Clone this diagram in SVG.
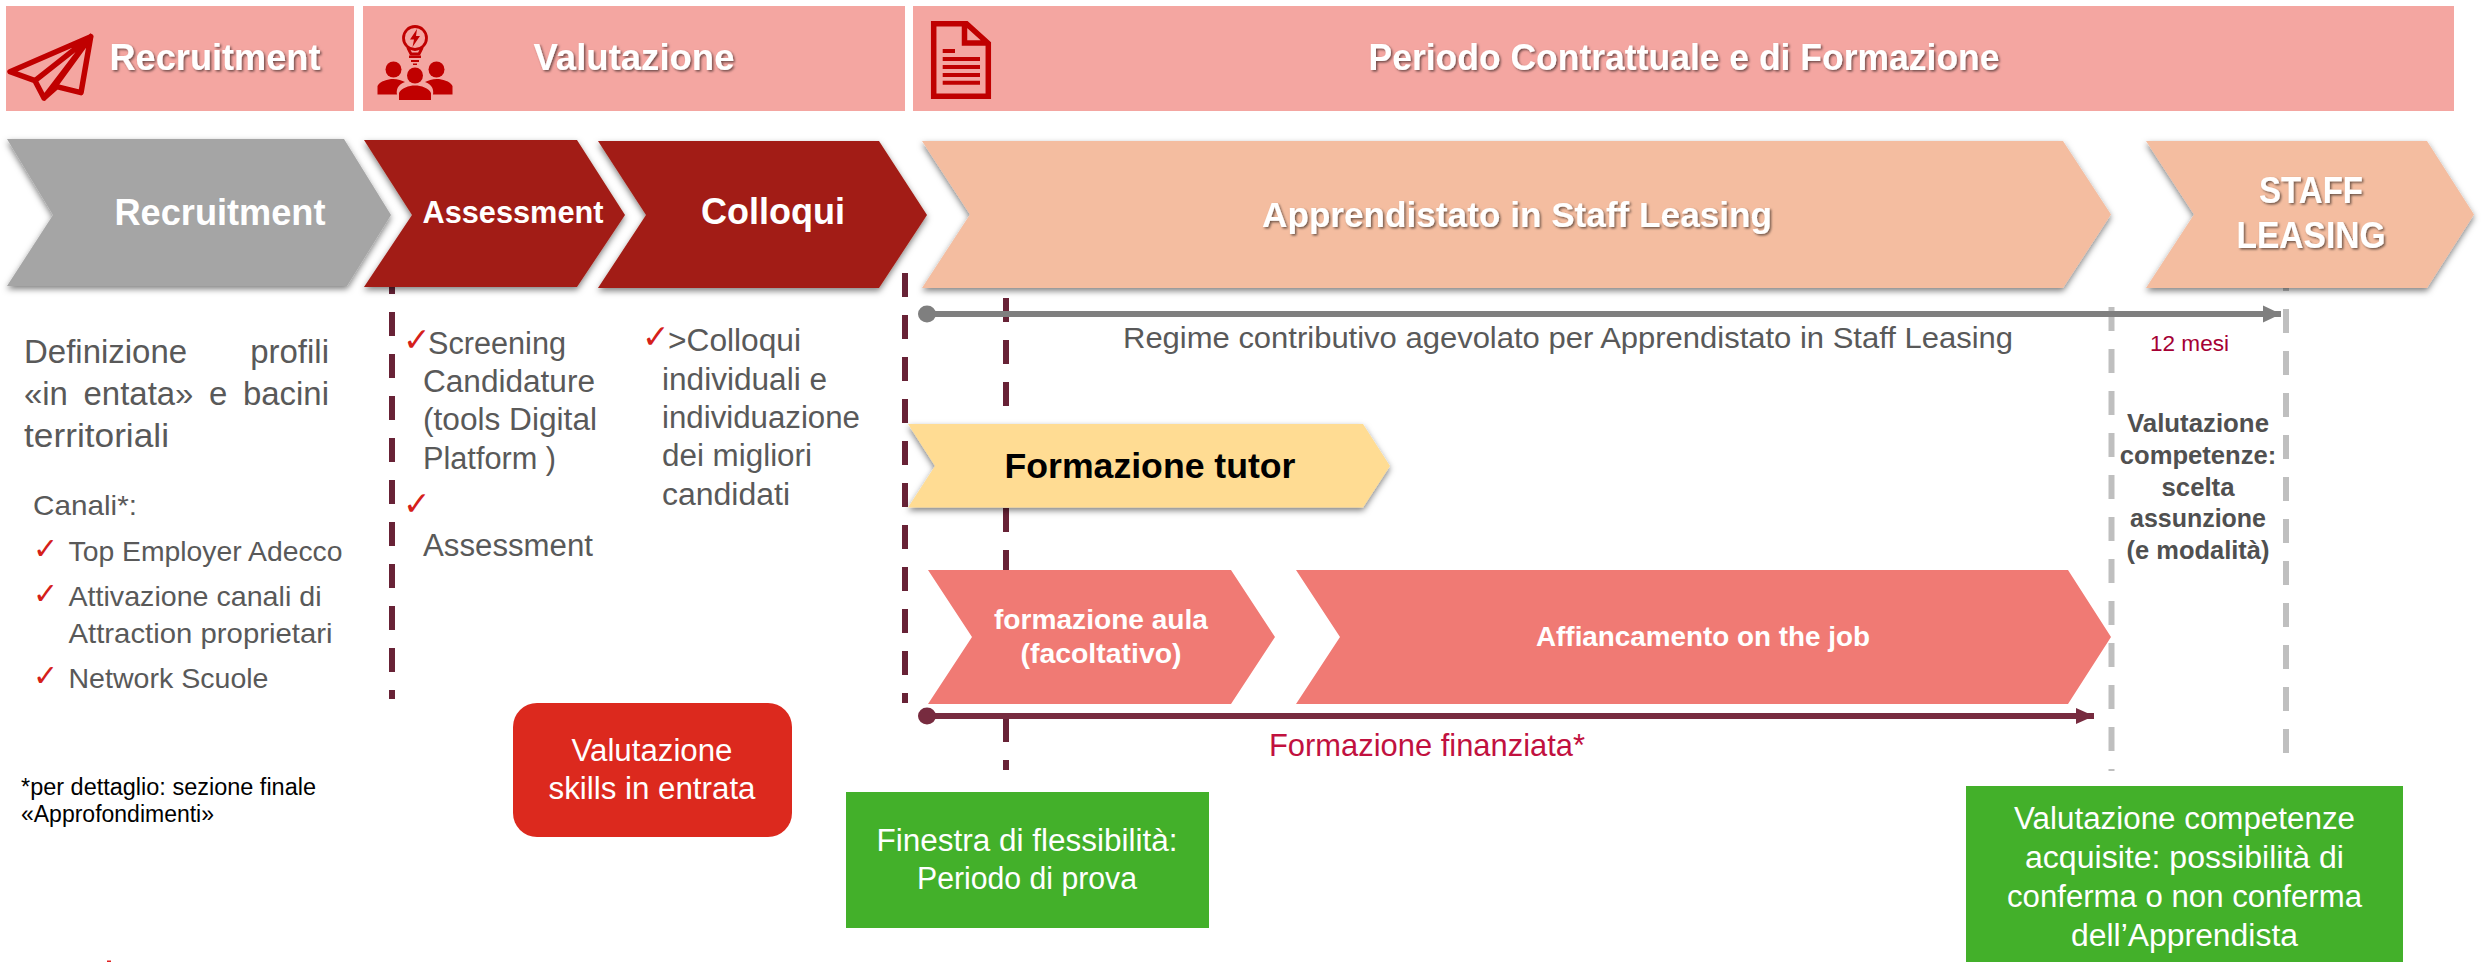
<svg xmlns="http://www.w3.org/2000/svg" width="2483" height="962" viewBox="0 0 2483 962">
<style>
text{font-family:"Liberation Sans",Arial,sans-serif}
.m{text-anchor:middle}
.hd{fill:#fff;font-weight:700;font-size:36px;filter:url(#ts)}
.wb{fill:#fff;font-weight:700}
.body{fill:#595959;font-size:31px}
.list{fill:#595959;font-size:28px}
.ck{fill:#d5201a;font-family:"DejaVu Sans",sans-serif;font-size:30px}
.ck2{fill:#d5201a;font-family:"DejaVu Sans",sans-serif;font-size:33px}
.box{fill:#fff;font-size:31px}
.vs{font-size:25.500px;font-weight:700;fill:#505050;text-anchor:middle}
.hbar{fill:#f4a6a1}
.ic{fill:#c00000}
.ics{fill:none;stroke:#c00000;stroke-linejoin:round;stroke-linecap:round}
.dm{stroke:#682236;stroke-width:6;stroke-dasharray:24 18;fill:none}
.dg{stroke:#bfbfbf;stroke-width:6;stroke-dasharray:24 18;fill:none}
.sh{filter:url(#ds)}
</style>
<defs>
<filter id="ds" x="-5%" y="-10%" width="110%" height="125%"><feDropShadow dx="0" dy="3" stdDeviation="3" flood-color="#000" flood-opacity=".5"/></filter>
<filter id="ts" x="-5%" y="-20%" width="110%" height="140%"><feDropShadow dx="1.500" dy="1.500" stdDeviation="1" flood-color="#000" flood-opacity=".55"/></filter>
<marker id="ag" markerUnits="userSpaceOnUse" markerWidth="18" markerHeight="18" refX="18" refY="9" orient="auto"><path d="M0 0.500L18 9L0 17.500Z" fill="#7f7f7f"/></marker>
<marker id="am" markerUnits="userSpaceOnUse" markerWidth="18" markerHeight="16" refX="18" refY="8" orient="auto"><path d="M0 0L18 8L0 16Z" fill="#772b3f"/></marker>
</defs>
<g id="connectors">
<path class="dm" d="M392 270V699"/>
<path class="dm" d="M905 273V703"/>
<path class="dm" d="M1006 298V770"/>
<path class="dg" d="M2111.500 307V771"/>
<path class="dg" d="M2286 141V753"/>
<ellipse cx="927" cy="314" rx="9" ry="8.500" fill="#7f7f7f"/>
<path d="M927 314H2281" stroke="#7f7f7f" stroke-width="6" fill="none" marker-end="url(#ag)"/>
<ellipse cx="927" cy="716" rx="9" ry="8.500" fill="#772b3f"/>
<path d="M927 716H2094" stroke="#772b3f" stroke-width="6" fill="none" marker-end="url(#am)"/>
</g>
<g id="header-recruitment">
<rect class="hbar" x="6" y="6" width="348" height="105"/>
<path class="ics" stroke-width="5.500" d="M90.700 36.700L10 71.700L35 80.700L44 98L56.700 86.700L81 92.700ZM90.700 36.700L35 80.700M90.700 36.700L44 98M90.700 36.700L52 90"/>
<text class="hd m" x="215" y="70" textLength="211" lengthAdjust="spacingAndGlyphs">Recruitment</text>
</g>
<g id="header-valutazione">
<rect class="hbar" x="363" y="6" width="542" height="105"/>
<circle class="ics" cx="415" cy="38" r="11.500" stroke-width="2.800"/>
<path class="ics" stroke-width="2.800" d="M408 48L411 54H419L422 48"/>
<path class="ic" d="M417 29L410 39.500H414L412.500 47L420 36H416ZM409 55.500H421V58H409ZM411 60H419V62H411ZM413 63.500H417V65H413Z"/>
<circle class="ic" cx="393.500" cy="69.500" r="8"/>
<circle class="ic" cx="436.500" cy="69.500" r="8"/>
<circle class="ic" cx="415" cy="75.500" r="8"/>
<path class="ic" d="M377.500 94.500V86C380 81 388 79 393 79C398 79 402 80.500 405 82C398 84 396 90 397 94.500ZM452.500 94.500V86C450 81 442 79 437 79C432 79 428 80.500 425 82C432 84 434 90 433 94.500ZM399 100V93C401 88 409 85.500 415 85.500C421 85.500 429 88 431 93V100Z"/>
<text class="hd m" x="634" y="70" textLength="201" lengthAdjust="spacingAndGlyphs">Valutazione</text>
</g>
<g id="header-periodo">
<rect class="hbar" x="913" y="6" width="1541" height="105"/>
<path class="ics" stroke-width="5.500" style="stroke-linecap:butt;stroke-linejoin:miter" d="M933.700 23.700H966.500L988.300 43.500V96.300H933.700ZM964.500 23.700V43H988"/>
<path class="ic" d="M942.700 49H955V53H942.700ZM942.700 57H980V61H942.700ZM942.700 65H980V69H942.700ZM942.700 73H980V77H942.700ZM942.700 80.700H980V84.700H942.700Z"/>
<text class="hd m" x="1684" y="70" textLength="631" lengthAdjust="spacingAndGlyphs">Periodo Contrattuale e di Formazione</text>
</g>
<g id="step-recruitment">
<path class="sh" fill="#a5a5a5" d="M7 139H344L391 215L347 286H7L53 215Z"/>
<text class="wb m" x="220" y="225" font-size="36" textLength="211" lengthAdjust="spacingAndGlyphs">Recruitment</text>
</g>
<g id="step-assessment">
<path class="sh" fill="#a21e14" d="M364 140H577L625 215L577 287H364L412 215Z"/>
<text class="wb m" x="513" y="223" font-size="30.500" textLength="181" lengthAdjust="spacingAndGlyphs">Assessment</text>
</g>
<g id="step-colloqui">
<path class="sh" fill="#a21e14" d="M598 141H879L927 215L879 288H598L646 215Z"/>
<text class="wb m" x="773" y="224" font-size="36" textLength="144" lengthAdjust="spacingAndGlyphs">Colloqui</text>
</g>
<g id="step-apprendistato">
<path class="sh" fill="#f4bda0" d="M922 141H2063L2111 214.500L2063 288H922L970 214.500Z"/>
<text class="wb m" x="1517" y="227" font-size="35" style="filter:url(#ts)" textLength="510" lengthAdjust="spacingAndGlyphs">Apprendistato in Staff Leasing</text>
</g>
<g id="step-staff-leasing">
<path class="sh" fill="#f4bda0" d="M2146 141H2427L2474 214.500L2427 288H2146L2194 214.500Z"/>
<text class="wb m" x="2311" y="203" font-size="36" style="filter:url(#ts)" textLength="104" lengthAdjust="spacingAndGlyphs">STAFF</text>
<text class="wb m" x="2311" y="248" font-size="36" style="filter:url(#ts)" textLength="149" lengthAdjust="spacingAndGlyphs">LEASING</text>
</g>
<g id="recruitment-text">
<text class="body" x="24" y="363" font-size="33" style="font-size:33px;word-spacing:54px" textLength="305" lengthAdjust="spacingAndGlyphs">Definizione profili</text>
<text class="body" x="24" y="405" style="font-size:33px;word-spacing:6.500px" textLength="305" lengthAdjust="spacingAndGlyphs">«in entata» e bacini</text>
<text class="body" x="24" y="447" style="font-size:33px" textLength="145" lengthAdjust="spacingAndGlyphs">territoriali</text>
<text class="list" x="33" y="515" textLength="104" lengthAdjust="spacingAndGlyphs">Canali*:</text>
<text class="ck" x="33" y="559">✓</text>
<text class="list" x="68.500" y="561" textLength="274" lengthAdjust="spacingAndGlyphs">Top Employer Adecco</text>
<text class="ck" x="33" y="604">✓</text>
<text class="list" x="68.500" y="606" textLength="253" lengthAdjust="spacingAndGlyphs">Attivazione canali di</text>
<text class="list" x="68.500" y="643" textLength="264" lengthAdjust="spacingAndGlyphs">Attraction proprietari</text>
<text class="ck" x="33" y="686">✓</text>
<text class="list" x="68.500" y="688" textLength="200" lengthAdjust="spacingAndGlyphs">Network Scuole</text>
<text x="21" y="795" font-size="23.500" fill="#000" textLength="295" lengthAdjust="spacingAndGlyphs">*per dettaglio: sezione finale</text>
<text x="21" y="822" font-size="23.500" fill="#000" textLength="193" lengthAdjust="spacingAndGlyphs">«Approfondimenti»</text>
<rect x="107" y="960.500" width="4" height="1.500" fill="#e02020"/>
</g>
<g id="assessment-text">
<text class="ck2" x="403" y="351">✓</text>
<text class="body" x="428" y="354" textLength="138" lengthAdjust="spacingAndGlyphs">Screening</text>
<text class="body" x="423" y="392" textLength="172" lengthAdjust="spacingAndGlyphs">Candidature</text>
<text class="body" x="423" y="430" textLength="174" lengthAdjust="spacingAndGlyphs">(tools Digital</text>
<text class="body" x="423" y="469" textLength="133" lengthAdjust="spacingAndGlyphs">Platform )</text>
<text class="ck2" x="403" y="515">✓</text>
<text class="body" x="423" y="556" textLength="170" lengthAdjust="spacingAndGlyphs">Assessment</text>
</g>
<g id="colloqui-text">
<text class="ck2" x="642" y="348">✓</text>
<text class="body" x="668" y="351" textLength="133" lengthAdjust="spacingAndGlyphs">&gt;Colloqui</text>
<text class="body" x="662" y="390" textLength="165" lengthAdjust="spacingAndGlyphs">individuali e</text>
<text class="body" x="662" y="428" textLength="198" lengthAdjust="spacingAndGlyphs">individuazione</text>
<text class="body" x="662" y="466" textLength="150" lengthAdjust="spacingAndGlyphs">dei migliori</text>
<text class="body" x="662" y="505" textLength="128" lengthAdjust="spacingAndGlyphs">candidati</text>
</g>
<g id="regime-label">
<text x="1123" y="348" font-size="30" fill="#595959" textLength="890" lengthAdjust="spacingAndGlyphs">Regime contributivo agevolato per Apprendistato in Staff Leasing</text>
</g>
<g id="mesi-label">
<text x="2150" y="351" font-size="22.500" fill="#a50034" textLength="79" lengthAdjust="spacingAndGlyphs">12 mesi</text>
</g>
<g id="valutazione-scelta">
<text class="vs" x="2198" y="432" textLength="142" lengthAdjust="spacingAndGlyphs">Valutazione</text>
<text class="vs" x="2198" y="464" textLength="156.500" lengthAdjust="spacingAndGlyphs">competenze:</text>
<text class="vs" x="2198" y="496" textLength="73" lengthAdjust="spacingAndGlyphs">scelta</text>
<text class="vs" x="2198" y="527" textLength="136" lengthAdjust="spacingAndGlyphs">assunzione</text>
<text class="vs" x="2198" y="559" textLength="143" lengthAdjust="spacingAndGlyphs">(e modalità)</text>
</g>
<g id="formazione-tutor">
<path class="sh" fill="#ffdc93" d="M908 424H1363L1390 466L1363 507.500H908L935 466Z"/>
<text class="m" x="1150" y="478" font-size="35.500" font-weight="700" fill="#000" textLength="291" lengthAdjust="spacingAndGlyphs">Formazione tutor</text>
</g>
<g id="formazione-aula">
<path fill="#f07a74" d="M928 570H1231L1275 637L1231 704H928L972 637Z"/>
<text class="wb m" x="1101" y="629" font-size="28" textLength="214" lengthAdjust="spacingAndGlyphs">formazione aula</text>
<text class="wb m" x="1101" y="663" font-size="28" textLength="161" lengthAdjust="spacingAndGlyphs">(facoltativo)</text>
</g>
<g id="affiancamento">
<path fill="#f07a74" d="M1296 570H2068L2111 637L2068 704H1296L1340 637Z"/>
<text class="wb m" x="1703" y="646" font-size="28.500" textLength="334" lengthAdjust="spacingAndGlyphs">Affiancamento on the job</text>
</g>
<g id="formazione-finanziata">
<text x="1269" y="755.500" font-size="30.500" fill="#c1113f" textLength="316" lengthAdjust="spacingAndGlyphs">Formazione finanziata*</text>
</g>
<g id="valutazione-skills">
<rect x="513" y="703" width="279" height="134" rx="24" fill="#dc291e"/>
<text class="box m" x="652" y="761" textLength="161" lengthAdjust="spacingAndGlyphs">Valutazione</text>
<text class="box m" x="652" y="799" textLength="207" lengthAdjust="spacingAndGlyphs">skills in entrata</text>
</g>
<g id="finestra-flessibilita">
<rect x="846" y="792" width="363" height="136" fill="#43b02a"/>
<text class="box m" x="1027" y="851" textLength="301" lengthAdjust="spacingAndGlyphs">Finestra di flessibilità:</text>
<text class="box m" x="1027" y="889" textLength="220" lengthAdjust="spacingAndGlyphs">Periodo di prova</text>
</g>
<g id="valutazione-competenze">
<rect x="1966" y="786" width="437" height="176" fill="#43b02a"/>
<text class="box m" x="2184.500" y="829" textLength="341" lengthAdjust="spacingAndGlyphs">Valutazione competenze</text>
<text class="box m" x="2184.500" y="868" textLength="319" lengthAdjust="spacingAndGlyphs">acquisite: possibilità di</text>
<text class="box m" x="2184.500" y="907" textLength="355" lengthAdjust="spacingAndGlyphs">conferma o non conferma</text>
<text class="box m" x="2184.500" y="946" textLength="227" lengthAdjust="spacingAndGlyphs">dell’Apprendista</text>
</g>
</svg>
